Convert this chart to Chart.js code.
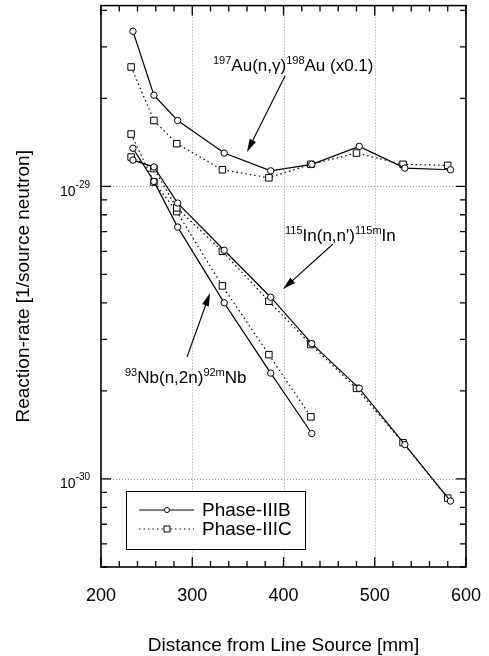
<!DOCTYPE html>
<html>
<head>
<meta charset="utf-8">
<script src="https://cdn.jsdelivr.net/npm/chart.js@4.4.0/dist/chart.umd.min.js"></script>
<style>
  html, body { margin: 0; padding: 0; background: #fff; }
  canvas { display: block; }
</style>
</head>
<body>
<canvas id="chart" width="489" height="656"></canvas>
<script>
// distances [mm]
const xB = [235, 258, 284, 335, 386, 431, 483, 533, 583];
const xC = [233, 258, 283, 333, 384, 430, 480, 531, 580];

// reaction rates [1/source neutron]
const auB = [3.39e-29, 2.05e-29, 1.68e-29, 1.30e-29, 1.13e-29, 1.19e-29, 1.37e-29, 1.155e-29, 1.14e-29];
const auC = [2.56e-29, 1.68e-29, 1.40e-29, 1.14e-29, 1.07e-29, 1.19e-29, 1.30e-29, 1.19e-29, 1.18e-29];
const inB = [1.23e-29, 1.165e-29, 8.77e-30, 6.05e-30, 4.18e-30, 2.90e-30, 2.04e-30, 1.31e-30, 8.4e-31];
const inC = [1.26e-29, 1.15e-29, 8.45e-30, 6.0e-30, 4.05e-30, 2.88e-30, 2.04e-30, 1.33e-30, 8.6e-31];
const nbB = [1.35e-29, 1.04e-29, 7.26e-30, 4.0e-30, 2.30e-30, 1.43e-30];
const nbC = [1.51e-29, 1.035e-29, 8.2e-30, 4.57e-30, 2.66e-30, 1.63e-30];

const xTicks = [200, 300, 400, 500, 600];
const yDecades = [1e-30, 1e-29];
const yDecadeLabels = ['-30', '-29'];
const legendLabels = ['Phase-IIIB', 'Phase-IIIC'];

const FONT = '"Liberation Sans", Arial, Helvetica, sans-serif';

function pts(xs, ys) {
    return ys.map((v, i) => ({ x: xs[i], y: v }));
}

function seriesB(xs, ys) {
    return {
        data: pts(xs, ys),
        borderColor: '#000',
        borderWidth: 1.2,
        pointStyle: 'circle',
        pointRadius: 3.2,
        pointBackgroundColor: '#fff',
        pointBorderColor: '#000',
        pointBorderWidth: 1
    };
}

function seriesC(xs, ys) {
    return {
        data: pts(xs, ys),
        borderColor: '#000',
        borderWidth: 1.2,
        borderDash: [1.5, 3],
        pointStyle: 'rect',
        pointRadius: 4.6,
        pointBackgroundColor: '#fff',
        pointBorderColor: '#000',
        pointBorderWidth: 1
    };
}

// draws text pieces, some as superscripts
function richText(ctx, x, y, parts, size, supSize, rise) {
    ctx.textBaseline = 'alphabetic';
    ctx.textAlign = 'left';
    parts.forEach(p => {
        ctx.font = (p.sup ? supSize : size) + 'px ' + FONT;
        ctx.fillText(p.t, x, p.sup ? y - rise : y);
        x += ctx.measureText(p.t).width;
    });
}

function arrow(ctx, x1, y1, x2, y2) {
    const a = Math.atan2(y2 - y1, x2 - x1);
    const len = 13, half = 3.5;
    ctx.beginPath();
    ctx.moveTo(x1, y1);
    ctx.lineTo(x2 - Math.cos(a) * len * 0.8, y2 - Math.sin(a) * len * 0.8);
    ctx.lineWidth = 1.1;
    ctx.stroke();
    ctx.beginPath();
    ctx.moveTo(x2, y2);
    ctx.lineTo(x2 - Math.cos(a) * len - Math.sin(a) * half, y2 - Math.sin(a) * len + Math.cos(a) * half);
    ctx.lineTo(x2 - Math.cos(a) * len + Math.sin(a) * half, y2 - Math.sin(a) * len - Math.cos(a) * half);
    ctx.closePath();
    ctx.fill();
}

const frame = {
    id: 'frame',
    beforeDatasetsDraw(chart) {
        const { ctx, chartArea: a, scales: { x, y } } = chart;
        ctx.save();
        ctx.strokeStyle = '#9a9a9a';
        ctx.lineWidth = 1;
        ctx.setLineDash([1, 2]);
        xTicks.slice(1, -1).forEach(v => {
            const px = Math.round(x.getPixelForValue(v)) + 0.5;
            ctx.beginPath(); ctx.moveTo(px, a.top); ctx.lineTo(px, a.bottom); ctx.stroke();
        });
        yDecades.forEach(v => {
            const py = Math.round(y.getPixelForValue(v)) + 0.5;
            ctx.beginPath(); ctx.moveTo(a.left, py); ctx.lineTo(a.right, py); ctx.stroke();
        });
        ctx.restore();
    },
    afterDatasetsDraw(chart) {
        const { ctx, chartArea: a, scales: { x, y } } = chart;
        ctx.save();
        ctx.strokeStyle = '#000';
        ctx.fillStyle = '#000';

        // ticks, pointing inwards on all four sides
        ctx.lineWidth = 1.3;
        for (let v = 200; v <= 600; v += 20) {
            const px = x.getPixelForValue(v);
            const l = v % 100 === 0 ? 10 : 6;
            ctx.beginPath();
            ctx.moveTo(px, a.bottom); ctx.lineTo(px, a.bottom - l);
            ctx.moveTo(px, a.top); ctx.lineTo(px, a.top + l);
            ctx.stroke();
        }
        [1e-31, 1e-30, 1e-29].forEach(d => {
            for (let m = 1; m <= 9; m++) {
                const v = d * m;
                if (v < y.min || v > y.max) continue;
                const py = y.getPixelForValue(v);
                const l = m === 1 ? 10 : 6;
                ctx.beginPath();
                ctx.moveTo(a.left, py); ctx.lineTo(a.left + l, py);
                ctx.moveTo(a.right, py); ctx.lineTo(a.right - l, py);
                ctx.stroke();
            }
        });

        ctx.lineWidth = 1.6;
        ctx.strokeRect(a.left, a.top, a.right - a.left, a.bottom - a.top);

        // tick labels
        ctx.font = '18px ' + FONT;
        ctx.textAlign = 'center';
        ctx.textBaseline = 'alphabetic';
        xTicks.forEach(v => ctx.fillText(String(v), x.getPixelForValue(v), 601));
        yDecades.forEach((v, i) => {
            const py = y.getPixelForValue(v);
            richText(ctx, 60, py + 9.5, [{ t: '10' }, { t: yDecadeLabels[i], sup: true }], 14, 10, 8);
        });

        // axis titles
        ctx.font = '19px ' + FONT;
        ctx.textAlign = 'center';
        ctx.fillText('Distance from Line Source [mm]', (a.left + a.right) / 2, 651);
        ctx.save();
        ctx.translate(29, (a.top + a.bottom) / 2);
        ctx.rotate(-Math.PI / 2);
        ctx.fillText('Reaction-rate [1/source neutron]', 0, 0);
        ctx.restore();

        // annotations
        richText(ctx, 213, 71, [{ t: '197', sup: true }, { t: 'Au(n,\u03b3)' }, { t: '198', sup: true }, { t: 'Au (x0.1)' }], 17, 11, 7);
        arrow(ctx, 285, 76, 247, 152);
        richText(ctx, 285, 241, [{ t: '115', sup: true }, { t: 'In(n,n\')' }, { t: '115m', sup: true }, { t: 'In' }], 17, 11, 7);
        arrow(ctx, 333, 244, 283, 289);
        richText(ctx, 125, 383, [{ t: '93', sup: true }, { t: 'Nb(n,2n)' }, { t: '92m', sup: true }, { t: 'Nb' }], 17, 11, 7);
        arrow(ctx, 187, 357, 210, 293);

        // legend
        ctx.fillStyle = '#fff';
        ctx.fillRect(126, 491, 179, 58);
        ctx.lineWidth = 1;
        ctx.strokeRect(126.5, 491.5, 179, 58);
        const rows = [510, 529];
        rows.forEach((ry, i) => {
            ctx.lineWidth = 1;
            ctx.setLineDash(i === 0 ? [] : [1.5, 3]);
            ctx.beginPath(); ctx.moveTo(139, ry); ctx.lineTo(194, ry); ctx.stroke();
            ctx.setLineDash([]);
            ctx.fillStyle = '#fff';
            ctx.beginPath();
            if (i === 0) ctx.arc(167, ry, 2.5, 0, Math.PI * 2);
            else ctx.rect(164, ry - 3, 6, 6);
            ctx.fill(); ctx.stroke();
            ctx.fillStyle = '#000';
            ctx.font = '19px ' + FONT;
            ctx.textAlign = 'left';
            ctx.textBaseline = 'middle';
            ctx.fillText(legendLabels[i], 202, ry + 1);
        });
        ctx.restore();
    }
};

new Chart(document.getElementById('chart'), {
    type: 'line',
    data: {
        datasets: [
            seriesB(xB, auB), seriesC(xC, auC),
            seriesB(xB, inB), seriesC(xC, inC),
            seriesB(xB, nbB), seriesC(xC, nbC)
        ]
    },
    options: {
        responsive: false,
        animation: false,
        layout: { padding: { left: 101, right: 23, top: 5, bottom: 89 } },
        scales: {
            x: { type: 'linear', min: 200, max: 600, display: false },
            y: { type: 'logarithmic', min: 5e-31, max: 4.15e-29, display: false }
        },
        plugins: {
            legend: { display: false },
            tooltip: { enabled: false }
        }
    },
    plugins: [frame]
});
</script>
</body>
</html>
